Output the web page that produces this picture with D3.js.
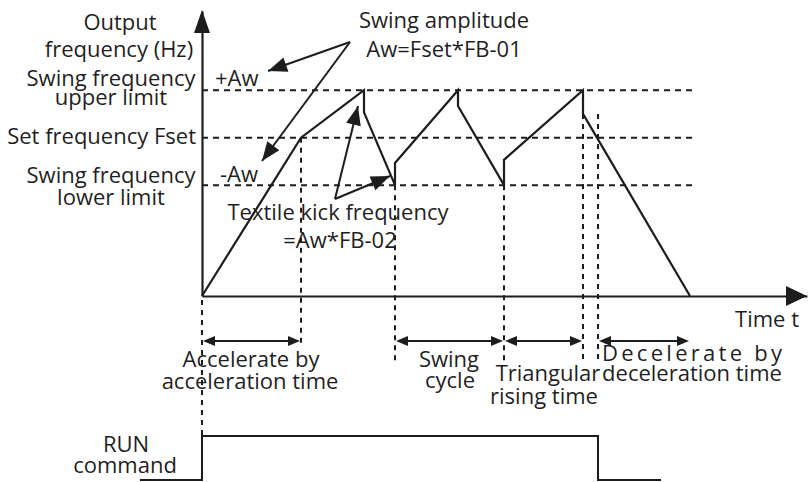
<!DOCTYPE html>
<html>
<head>
<meta charset="utf-8">
<script src="https://cdn.jsdelivr.net/npm/d3@7"></script>
<style>
  html, body { margin: 0; padding: 0; background: #fff; }
  text { font-family: "Open Sans", "Noto Sans", sans-serif; fill: #1f1f1f; }
</style>
</head>
<body>
<svg id="chart" width="808" height="482"></svg>
<script>
// Swing-frequency output profile: time (arbitrary units) vs output frequency (Hz)
const waveTime = [0, 9.9, 16.2, 16.2, 19.3, 19.3, 25.6, 25.6, 30.2, 30.2, 38.1, 38.1, 48.8];
const waveFreq = [0, 50, 65, 58, 35, 42, 65, 60, 35, 43, 65, 57.5, 0];

// Reference levels: upper limit (+Aw), set frequency, lower limit (-Aw)
const levelFreq = [65, 50, 35];
const levelNames = [["Swing frequency", "upper limit"], ["Set frequency Fset"], ["Swing frequency", "lower limit"]];

// Vertical guide lines: time and the frequency they start from
const guideTime = [9.9, 19.3, 30.2, 38.1, 39.6];
const guideFreq = [50, 35, 35, 57.5, 57.5];

// Timing spans marked with double arrows
const spanStart = [0, 19.3, 30.2, 39.6];
const spanEnd = [9.9, 30.2, 38.1, 48.8];
const spanLabels = [
  ["Accelerate by", "acceleration time"],
  ["Swing", "cycle"],
  ["Triangular", "rising time"],
  ["Decelerate by", "deceleration time"]
];

// RUN command signal (0 = off, 1 = on)
const runTime = [-6.2, 0, 0, 39.6, 39.6, 45.9];
const runState = [0, 0, 1, 1, 0, 0];

const svg = d3.select("#chart");
const ink = "#1d1d1d";
const fontSize = 22;
const x = d3.scaleLinear().domain([0, 60.5]).range([202, 807]);
const y = d3.scaleLinear().domain([0, 90]).range([296, 11]);
const yRun = d3.scaleLinear().domain([0, 1]).range([480, 436]);

function arrowHead(tip, from, len, half) {
  const dx = tip[0] - from[0], dy = tip[1] - from[1];
  const L = Math.hypot(dx, dy), ux = dx / L, uy = dy / L;
  const bx = tip[0] - ux * len, by = tip[1] - uy * len;
  svg.append("path")
    .attr("d", `M${tip[0]},${tip[1]}L${bx - uy * half},${by + ux * half}L${bx + uy * half},${by - ux * half}Z`)
    .attr("fill", ink);
}

function label(txt, cx, baseline, anchor = "middle", extra) {
  const t = svg.append("text")
    .attr("x", cx).attr("y", baseline)
    .attr("text-anchor", anchor)
    .attr("font-size", fontSize)
    .text(txt);
  if (extra) extra(t);
  return t;
}

// Dashed reference levels
svg.append("g").selectAll("line").data(levelFreq).join("line")
  .attr("x1", x(0)).attr("x2", x(49.3))
  .attr("y1", d => y(d)).attr("y2", d => y(d))
  .attr("stroke", ink).attr("stroke-width", 2)
  .attr("stroke-dasharray", "6,5");

// Vertical dashed guides
const guideEnd = [347, 362, 362, 363, 363];
svg.append("g").selectAll("line").data(guideTime).join("line")
  .attr("x1", d => x(d)).attr("x2", d => x(d))
  .attr("y1", (d, i) => y(guideFreq[i])).attr("y2", (d, i) => guideEnd[i])
  .attr("stroke", ink).attr("stroke-width", 2)
  .attr("stroke-dasharray", "5,5");
// guide from the time origin down to the RUN signal
svg.append("line")
  .attr("x1", x(0)).attr("x2", x(0)).attr("y1", y(0) + 4).attr("y2", yRun(1))
  .attr("stroke", ink).attr("stroke-width", 2).attr("stroke-dasharray", "5,5");

// Axes (no ticks, just the arrowed lines)
svg.append("g").attr("transform", `translate(${x(0)},0)`)
  .call(d3.axisLeft(y).tickValues([]).tickSizeOuter(0));
svg.append("g").attr("transform", `translate(0,${y(0)})`)
  .call(d3.axisBottom(x).tickValues([]).tickSizeOuter(0));
svg.selectAll(".domain").attr("stroke", ink).attr("stroke-width", 2.2);
arrowHead([x(0), y(90) - 1], [x(0), y(0)], 23, 8);
arrowHead([x(60.5), y(0)], [x(0), y(0)], 21, 10);

// Output frequency waveform
svg.append("path")
  .datum(waveTime.map((t, i) => [t, waveFreq[i]]))
  .attr("d", d3.line().x(d => x(d[0])).y(d => y(d[1])))
  .attr("fill", "none").attr("stroke", ink).attr("stroke-width", 2.2)
  .attr("stroke-linejoin", "miter");

// RUN command signal
svg.append("path")
  .datum(runTime.map((t, i) => [t, runState[i]]))
  .attr("d", d3.line().x(d => x(d[0])).y(d => yRun(d[1])))
  .attr("fill", "none").attr("stroke", ink).attr("stroke-width", 2);

// Span arrows
const spanY = 341;
spanStart.forEach((s, i) => {
  const a = x(s) + 1, b = x(spanEnd[i]) - 1;
  svg.append("line").attr("x1", a + 6).attr("x2", b - 6).attr("y1", spanY).attr("y2", spanY)
    .attr("stroke", ink).attr("stroke-width", 2);
  arrowHead([a, spanY], [b, spanY], 12, 5);
  arrowHead([b, spanY], [a, spanY], 12, 5);
});

// Axis titles
label("Output", 120, 30);
label("frequency (Hz)", 119, 57);
label("Time t", 799, 327, "end");

// Level labels on the left
const levelBase = [[86, 105], [144], [183, 205]];
levelNames.forEach((lines, i) => {
  lines.forEach((ln, j) => {
    if (lines.length === 1) label(ln, 196, levelBase[i][j], "end");
    else label(ln, 111, levelBase[i][j]);
  });
});
label("+Aw", 215, 86, "start");
label("-Aw", 220, 182, "start");

// Swing amplitude annotation
label("Swing amplitude", 444, 28);
label("Aw=Fset*FB-01", 444, 57);
const ampFrom = [350, 42];
[[268, 71], [262, 161]].forEach(tip => {
  svg.append("line").attr("x1", ampFrom[0]).attr("y1", ampFrom[1])
    .attr("x2", tip[0]).attr("y2", tip[1]).attr("stroke", ink).attr("stroke-width", 2);
  arrowHead(tip, ampFrom, 19, 7.5);
});

// Textile kick annotation
const kickFrom = [335, 199];
[[358, 106], [390, 176]].forEach(tip => {
  svg.append("line").attr("x1", kickFrom[0]).attr("y1", kickFrom[1])
    .attr("x2", tip[0]).attr("y2", tip[1]).attr("stroke", ink).attr("stroke-width", 2);
  arrowHead(tip, kickFrom, 19, 7.5);
});
label("Textile kick frequency", 338, 220);
label("=Aw*FB-02", 340, 248);

// Span labels
label(spanLabels[0][0], 251, 367);
label(spanLabels[0][1], 250, 389);
label(spanLabels[1][0], 449, 367);
label(spanLabels[1][1], 450, 388);
label(spanLabels[2][0], 548, 381);
label(spanLabels[2][1], 544, 404);
label(spanLabels[3][0], 692, 361, "middle", t => t.attr("textLength", 180).attr("lengthAdjust", "spacing"));
label(spanLabels[3][1], 692, 381);

// RUN command label
label("RUN", 126, 452);
label("command", 125, 473);
</script>
</body>
</html>
